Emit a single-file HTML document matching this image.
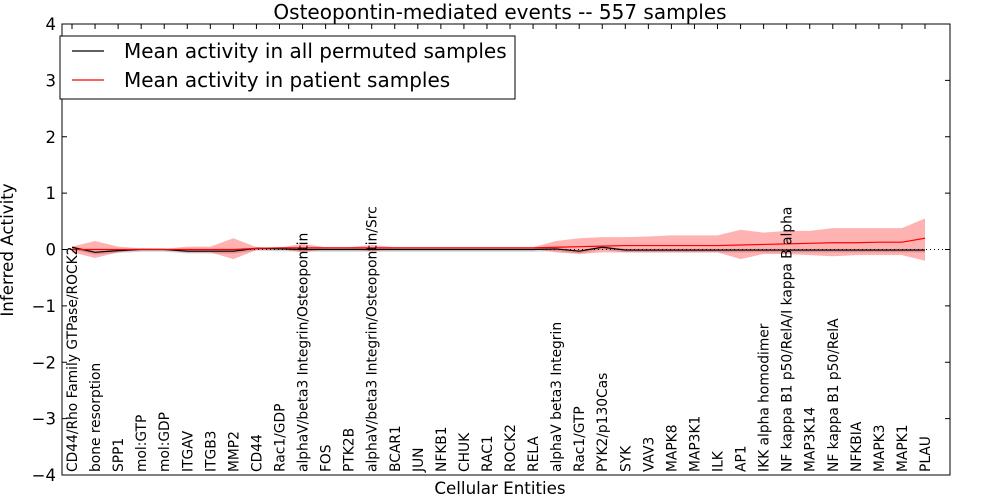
<!DOCTYPE html>
<html><head><meta charset="utf-8"><style>body{margin:0;background:#fff}svg{display:block;font-family:"DejaVu Sans","Liberation Sans",sans-serif}</style></head>
<body>
<svg id="chart" width="1000" height="500" viewBox="0 0 1000 500"></svg>
<script>
const categories=["CD44/Rho Family GTPase/ROCK2","bone resorption","SPP1","mol:GTP","mol:GDP","ITGAV","ITGB3","MMP2","CD44","Rac1/GDP","alphaV/beta3 Integrin/Osteopontin","FOS","PTK2B","alphaV/beta3 Integrin/Osteopontin/Src","BCAR1","JUN","NFKB1","CHUK","RAC1","ROCK2","RELA","alphaV beta3 Integrin","Rac1/GTP","PYK2/p130Cas","SYK","VAV3","MAPK8","MAP3K1","ILK","AP1","IKK alpha homodimer","NF kappa B1 p50/RelA/I kappa B alpha","MAP3K14","NF kappa B1 p50/RelA","NFKBIA","MAPK3","MAPK1","PLAU"];
const patientMean=[0,0,0,0,0,0,0,0,0.02,0.03,0.03,0.03,0.03,0.03,0.03,0.03,0.03,0.03,0.03,0.03,0.03,0.04,0.05,0.06,0.07,0.07,0.07,0.07,0.07,0.08,0.09,0.1,0.11,0.12,0.12,0.13,0.13,0.2];
const patientUpper=[0.05,0.15,0.05,0.02,0.01,0.05,0.05,0.2,0.04,0.03,0.1,0.04,0.04,0.08,0.04,0.04,0.04,0.04,0.04,0.04,0.04,0.15,0.2,0.22,0.22,0.23,0.25,0.25,0.25,0.35,0.3,0.33,0.33,0.38,0.38,0.38,0.38,0.55];
const patientLower=[-0.05,-0.15,-0.05,-0.01,-0.01,-0.05,-0.05,-0.17,-0.01,0.01,-0.05,0.01,0.01,-0.03,0.01,0.01,0.01,0.01,0.01,0.01,0.01,-0.05,-0.08,-0.05,-0.05,-0.05,-0.05,-0.05,-0.05,-0.17,-0.08,-0.08,-0.1,-0.12,-0.1,-0.1,-0.1,-0.2];
const permMean=[0.04,-0.05,-0.02,0,0,-0.03,-0.03,-0.03,0.02,0.01,0,0,0,0,0,0,0,0,0,0,0,0.01,-0.03,0.04,-0.01,-0.01,-0.01,-0.01,-0.01,-0.01,-0.01,-0.01,-0.01,-0.01,-0.01,-0.01,-0.01,-0.01];
const permUpper=permMean.map(v=>v+0.02);
const permLower=permMean.map(v=>v-0.04);
const yTicks=[-4,-3,-2,-1,0,1,2,3,4];

const NS="http://www.w3.org/2000/svg",svg=document.getElementById('chart');
const L=62,R=950,T=24,B=475;
const x=i=>72+i*(925-72)/(categories.length-1);
const y=v=>T+(4-v)*(B-T)/8;
function el(t,a,p){const e=document.createElementNS(NS,t);for(const k in a)e.setAttribute(k,a[k]);(p||svg).appendChild(e);return e;}
function band(u,l,fill,op,name){let d=u.map((v,i)=>(i?'L':'M')+x(i)+','+y(v)).join('')+l.map((v,i)=>i).reverse().map(i=>'L'+x(i)+','+y(l[i])).join('')+'Z';
const p=el('path',{d,fill,'fill-opacity':op,stroke:'none'});}
function line(vals,stroke,name){const p=el('polyline',{points:vals.map((v,i)=>x(i)+','+y(v)).join(' '),fill:'none',stroke,'stroke-width':1.2});}
band(permUpper,permLower,'#888',0.35,'permuted-band');
band(patientUpper,patientLower,'#f00',0.3,'patient-band');
const z=el('line',{x1:L,x2:R,y1:y(0),y2:y(0),stroke:'#000','stroke-dasharray':'1,3'});
line(permMean,'#000','permuted-mean-line');
line(patientMean,'#f00','patient-mean-line');
const fr=el('rect',{x:L,y:T,width:R-L,height:B-T,fill:'none',stroke:'#000'});
yTicks.forEach(v=>{el('line',{x1:L,x2:L+5,y1:y(v),y2:y(v),stroke:'#000'});el('line',{x1:R-5,x2:R,y1:y(v),y2:y(v),stroke:'#000'});
const t=el('text',{x:L-6,y:y(v)+6,'text-anchor':'end','font-size':16.5});t.textContent=(v<0?'\u2212':'')+Math.abs(v);});
categories.forEach((c,i)=>{el('line',{x1:x(i),x2:x(i),y1:T,y2:T+5,stroke:'#000'});
const t=el('text',{x:0,y:0,transform:`translate(${x(i)+5},472) rotate(-90)`,'font-size':13.8});t.textContent=c;});
let t=el('text',{x:500,y:19,'text-anchor':'middle','font-size':20});t.textContent='Osteopontin-mediated events -- 557 samples';
t=el('text',{x:500,y:494,'text-anchor':'middle','font-size':16.7});t.textContent='Cellular Entities';
t=el('text',{x:0,y:0,transform:'translate(13,250) rotate(-90)','text-anchor':'middle','font-size':16.7});t.textContent='Inferred Activity';
const lg=el('g',{});
el('rect',{x:60,y:36,width:455,height:63,fill:'#fff',stroke:'#000'},lg);
el('line',{x1:72,x2:104,y1:51,y2:51,stroke:'#000','stroke-width':1.2},lg);
el('line',{x1:72,x2:104,y1:80,y2:80,stroke:'#f00','stroke-width':1.2},lg);
t=el('text',{x:124,y:58,'font-size':20},lg);t.textContent='Mean activity in all permuted samples';
t=el('text',{x:124,y:87,'font-size':20},lg);t.textContent='Mean activity in patient samples';
</script>
</body></html>
